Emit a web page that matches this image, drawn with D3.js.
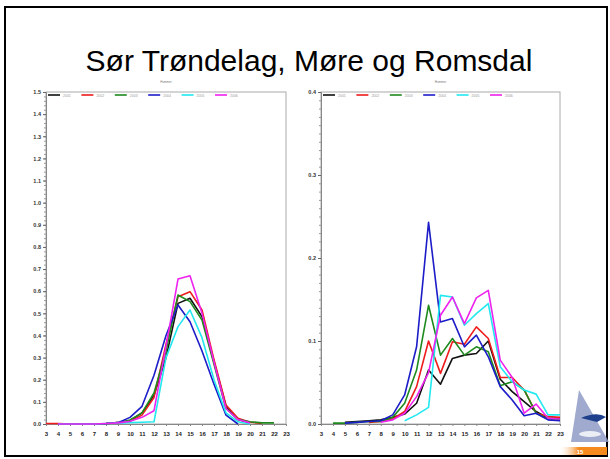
<!DOCTYPE html>
<html lang="en">
<head>
<meta charset="UTF-8">
<title>Sør Trøndelag, Møre og Romsdal</title>
<script src="https://d3js.org/d3.v7.min.js"></script>
<style>
  body { margin: 0; background: #fff; }
  svg { display: block; font-family: "Liberation Sans", Arial, sans-serif; }
</style>
</head>
<body>
<svg id="slide" width="610" height="459"></svg>
<script>
// ---- data ----
const years = ["2001", "2002", "2003", "2004", "2005", "2006"];
const colors = ["#111111", "#ee1c1c", "#1e8a1e", "#1c1cc8", "#22e8f0", "#ee22ee"];
const xTicks = d3.range(3, 24);

// left panel (scale 0 - 1.5)
const leftX = [
  [4, 5, 6, 7, 8, 9, 10, 11, 12, 13, 14, 15, 16, 17, 18, 19, 20],
  [3, 4, 5, 6, 7, 8, 9, 10, 11, 12, 13, 14, 15, 16, 17, 18, 19, 20, 21],
  [4, 5, 6, 7, 8, 9, 10, 11, 12, 13, 14, 15, 16, 17, 18, 19, 20, 21, 22],
  [4, 5, 6, 7, 8, 9, 10, 11, 12, 13, 14, 15, 16, 17, 18, 19],
  [4, 5, 6, 7, 8, 9, 10, 11, 12, 13, 14, 15, 16, 17, 18, 19, 20],
  [4, 5, 6, 7, 8, 9, 10, 11, 12, 13, 14, 15, 16, 17, 18, 19, 20]
];
const leftY = [
  [0, 0, 0, 0, 0.002, 0.006, 0.015, 0.05, 0.13, 0.30, 0.545, 0.568, 0.485, 0.28, 0.08, 0.02, 0.005],
  [0.002, 0.002, 0, 0, 0, 0.002, 0.006, 0.012, 0.04, 0.12, 0.36, 0.575, 0.598, 0.515, 0.29, 0.086, 0.026, 0.008, 0.003],
  [0, 0, 0, 0, 0.002, 0.006, 0.018, 0.05, 0.14, 0.33, 0.583, 0.553, 0.47, 0.27, 0.07, 0.02, 0.01, 0.005, 0.005],
  [0, 0, 0, 0, 0.002, 0.006, 0.03, 0.08, 0.22, 0.40, 0.538, 0.462, 0.33, 0.18, 0.04, 0.0],
  [0, 0, 0, 0, 0.002, 0.004, 0.006, 0.008, 0.01, 0.30, 0.44, 0.515, 0.39, 0.20, 0.05, 0.01, 0.0],
  [0, 0, 0, 0, 0.002, 0.005, 0.012, 0.03, 0.06, 0.35, 0.655, 0.67, 0.50, 0.28, 0.07, 0.02, 0.005]
];

// right panel (scale 0 - 0.4)
const rightX = [
  [5, 6, 7, 8, 9, 10, 11, 12, 13, 14, 15, 16, 17, 18, 19, 20, 21, 22, 23],
  [7, 8, 9, 10, 11, 12, 13, 14, 15, 16, 17, 18, 19, 20, 21, 22, 23],
  [4, 5, 6, 7, 8, 9, 10, 11, 12, 13, 14, 15, 16, 17, 18, 19, 20, 21, 22, 23],
  [5, 6, 7, 8, 9, 10, 11, 12, 13, 14, 15, 16, 17, 18, 19, 20, 21, 22, 23],
  [10, 11, 12, 13, 14, 15, 16, 17, 18, 19, 20, 21, 22, 23],
  [8, 9, 10, 11, 12, 13, 14, 15, 16, 17, 18, 19, 20, 21, 22, 23]
];
const rightY = [
  [0.002, 0.003, 0.004, 0.005, 0.008, 0.012, 0.025, 0.065, 0.048, 0.079, 0.083, 0.085, 0.100, 0.054, 0.039, 0.027, 0.015, 0.007, 0.007],
  [0.002, 0.003, 0.006, 0.015, 0.045, 0.100, 0.061, 0.099, 0.096, 0.117, 0.103, 0.056, 0.056, 0.041, 0.013, 0.009, 0.008],
  [0.001, 0.001, 0.002, 0.003, 0.003, 0.008, 0.025, 0.065, 0.143, 0.083, 0.103, 0.083, 0.093, 0.087, 0.046, 0.051, 0.041, 0.013, 0.006, 0.005],
  [0.001, 0.002, 0.003, 0.004, 0.011, 0.035, 0.093, 0.243, 0.123, 0.127, 0.093, 0.107, 0.081, 0.045, 0.029, 0.010, 0.013, 0.005, 0.004],
  [0.004, 0.011, 0.020, 0.155, 0.153, 0.119, 0.133, 0.145, 0.069, 0.051, 0.041, 0.036, 0.011, 0.011],
  [0.002, 0.005, 0.013, 0.033, 0.062, 0.131, 0.153, 0.121, 0.152, 0.161, 0.077, 0.056, 0.013, 0.024, 0.007, 0.006]
];

const leftYTicks = d3.range(0, 16).map(d => d / 10);
const rightYTicks = [0, 0.1, 0.2, 0.3, 0.4];
const panelTitles = ["Hummer", "Hummer"];

const svg = d3.select("#slide");

// slide frame
svg.append("rect")
  .attr("x", 5).attr("y", 7)
  .attr("width", 602).attr("height", 449)
  .attr("fill", "none")
  .attr("stroke", "#000")
  .attr("stroke-width", 2);

svg.append("text")
  .attr("x", 309).attr("y", 71)
  .attr("text-anchor", "middle")
  .style("font-size", "30px")
  .style("fill", "#000")
  .text("Sør Trøndelag, Møre og Romsdal");

function drawPanel(left, right, yMax, yTicks, minorStep, xs, ys, title) {
  const top = 92, bottom = 424;
  const x = d3.scaleLinear().domain([3, 23]).range([left, right]);
  const y = d3.scaleLinear().domain([0, yMax]).range([bottom, top]);

  const g = svg.append("g");

  // plot box
  g.append("rect")
    .attr("x", left).attr("y", top)
    .attr("width", right - left).attr("height", bottom - top)
    .attr("fill", "none")
    .attr("stroke", "#aaa")
    .attr("stroke-width", 1);

  g.append("text")
    .attr("x", (left + right) / 2).attr("y", 83)
    .attr("text-anchor", "middle")
    .style("font-size", "3px")
    .style("fill", "#777")
    .text(title);

  // y axis with minor ticks
  const yAxis = g.append("g")
    .attr("transform", `translate(${left},0)`)
    .call(d3.axisLeft(y).tickValues(d3.range(0, yMax + 1e-9, minorStep)).tickSize(2).tickFormat(""));
  yAxis.select(".domain").attr("stroke", "#888");
  yAxis.selectAll("line").attr("stroke", "#999");

  g.append("g")
    .attr("transform", `translate(${left},0)`)
    .call(d3.axisLeft(y).tickValues(yTicks).tickSize(3).tickPadding(2).tickFormat(d3.format(".1f")))
    .call(a => a.select(".domain").remove())
    .call(a => a.selectAll("line").attr("stroke", "#666"))
    .call(a => a.selectAll("text").style("font-size", "5.5px").style("font-weight", "bold").style("fill", "#333"));

  const xAxis = g.append("g")
    .attr("transform", `translate(0,${bottom})`)
    .call(d3.axisBottom(x).tickValues(xTicks).tickSize(2).tickPadding(6).tickFormat(d3.format("d")));
  xAxis.select(".domain").attr("stroke", "#888");
  xAxis.selectAll("line").attr("stroke", "#888");
  xAxis.selectAll("text").style("font-size", "6px").style("font-weight", "bold").style("fill", "#222");

  const line = d3.line().x(d => x(d[0])).y(d => y(d[1]));

  years.forEach((yr, i) => {
    const pts = xs[i].map((v, j) => [v, ys[i][j]]);
    g.append("path")
      .datum(pts)
      .attr("d", line)
      .attr("fill", "none")
      .attr("stroke", colors[i])
      .attr("stroke-width", 1.6)
      .attr("stroke-linejoin", "round");
  });

  // legend
  const leg = d3.scaleLinear().domain([0, 5]).range([left + 2, left + 169]);
  years.forEach((yr, i) => {
    g.append("line")
      .attr("x1", leg(i)).attr("x2", leg(i) + 12)
      .attr("y1", 95).attr("y2", 95)
      .attr("stroke", colors[i])
      .attr("stroke-width", 1.6);
    g.append("text")
      .attr("x", leg(i) + 15).attr("y", 96.5)
      .style("font-size", "3.5px")
      .style("fill", "#999")
      .text(yr);
  });
}

drawPanel(46, 286, 1.5, leftYTicks, 0.02, leftX, leftY, panelTitles[0]);
drawPanel(321, 560, 0.4, rightYTicks, 0.01, rightX, rightY, panelTitles[1]);

// logo and page number, bottom right
const logo = svg.append("g");
const bar = svg.append("defs").append("linearGradient").attr("id", "bar");
bar.append("stop").attr("offset", "0%").attr("stop-color", "#fff").attr("stop-opacity", 0.2);
bar.append("stop").attr("offset", "40%").attr("stop-color", "#f58a1f");
bar.append("stop").attr("offset", "100%").attr("stop-color", "#f58a1f");
logo.append("rect").attr("x", 560).attr("y", 447).attr("width", 47).attr("height", 8).attr("fill", "url(#bar)");
logo.append("text").attr("x", 580).attr("y", 454).attr("text-anchor", "middle")
  .style("font-size", "6px").style("fill", "#fff").style("font-weight", "bold").text("15");
logo.append("path")
  .attr("d", "M579,390 L609,442 L571,442 Z")
  .attr("fill", "#8e9bc6").attr("opacity", 0.85);
logo.append("path")
  .attr("d", "M581,418 Q597,411 606,417 L597,422 Z")
  .attr("fill", "#1d3f8c");
logo.append("ellipse")
  .attr("cx", 590).attr("cy", 434).attr("rx", 11).attr("ry", 3)
  .attr("fill", "#fff").attr("opacity", 0.8);
</script>
</body>
</html>
